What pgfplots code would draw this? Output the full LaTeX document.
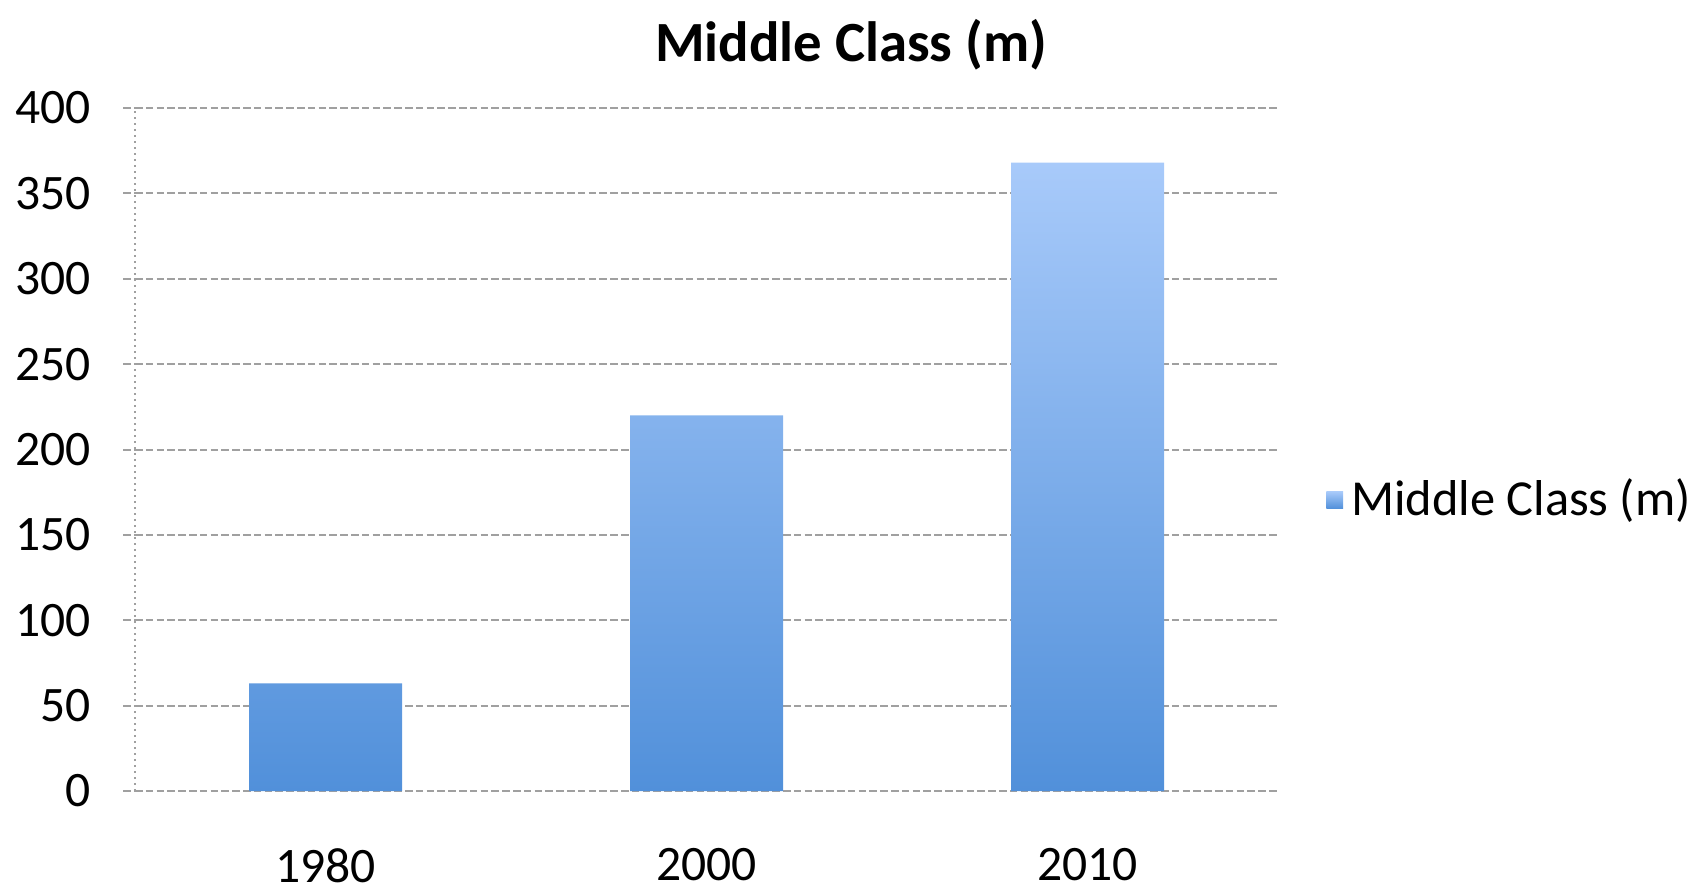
\documentclass[border=0pt]{standalone}
\usepackage{fontspec}
\setmainfont{Carlito}
\usepackage{pgfplots}
\pgfplotsset{compat=1.18}

\definecolor{bartop}{HTML}{A8CAFA}
\definecolor{barbot}{HTML}{5190DA}
\definecolor{gridgray}{HTML}{A0A0A0}

\begin{document}
\begin{tikzpicture}
\begin{axis}[
    at={(0,0)}, anchor=south west,
    scale only axis,
    width=285.75pt, height=170.75pt,
    xmin=-0.5, xmax=2.5,
    ymin=0, ymax=400,
    xtick={0,1,2},
    xticklabels={1980,2000,2010},
    ytick={0,50,...,400},
    axis lines*=left,
    x axis line style={draw=none},
    y axis line style={gridgray, densely dotted, line width=0.5pt},
    ymajorgrids,
    grid style={gridgray, dash pattern=on 1.9pt off 0.8pt, line width=0.5pt},
    tick align=outside,
    major tick length=3pt,
    ytick style={gridgray, dash pattern=on 1.9pt off 0.8pt, line width=0.5pt},
    xtick style={draw=none},
    extra x ticks={0.5,1.5,2.5},
    extra x tick labels={},
    extra x tick style={grid=none, major tick length=2.5pt,
        tick style={gridgray, densely dotted, line width=0.4pt}},
    /pgf/number format/assume math mode=true,
    ticklabel style={font=\fontsize{12.4}{14}\selectfont, text=black},
    yticklabel style={xshift=-4.5pt},
    xticklabel style={inner sep=0pt, yshift=-11.2pt},
    legend style={at={(1.0415,0.426)}, anchor=west, draw=none, fill=none,
        inner sep=0pt, font=\fontsize{12.6}{14}\selectfont},
    legend image code/.code={%
        \fill[top color=bartop, bottom color=barbot] (0pt,-2.1pt) rectangle (4.2pt,2.1pt);},
]
% Middle class size (millions) per year
\addplot[ybar, bar width=38.25pt, draw=none, top color=bartop, bottom color=barbot]
    coordinates {(0,63) (1,220) (2,368)};
\addlegendentry{Middle Class (m)}
\end{axis}
\node[anchor=base, font=\fontsize{14.2}{16}\selectfont\bfseries] at (179pt,182.3pt) {Middle Class (m)};
\pgfresetboundingbox
\useasboundingbox (-33.75pt,-24.75pt) rectangle (392pt,197.75pt);
\end{tikzpicture}
\end{document}
